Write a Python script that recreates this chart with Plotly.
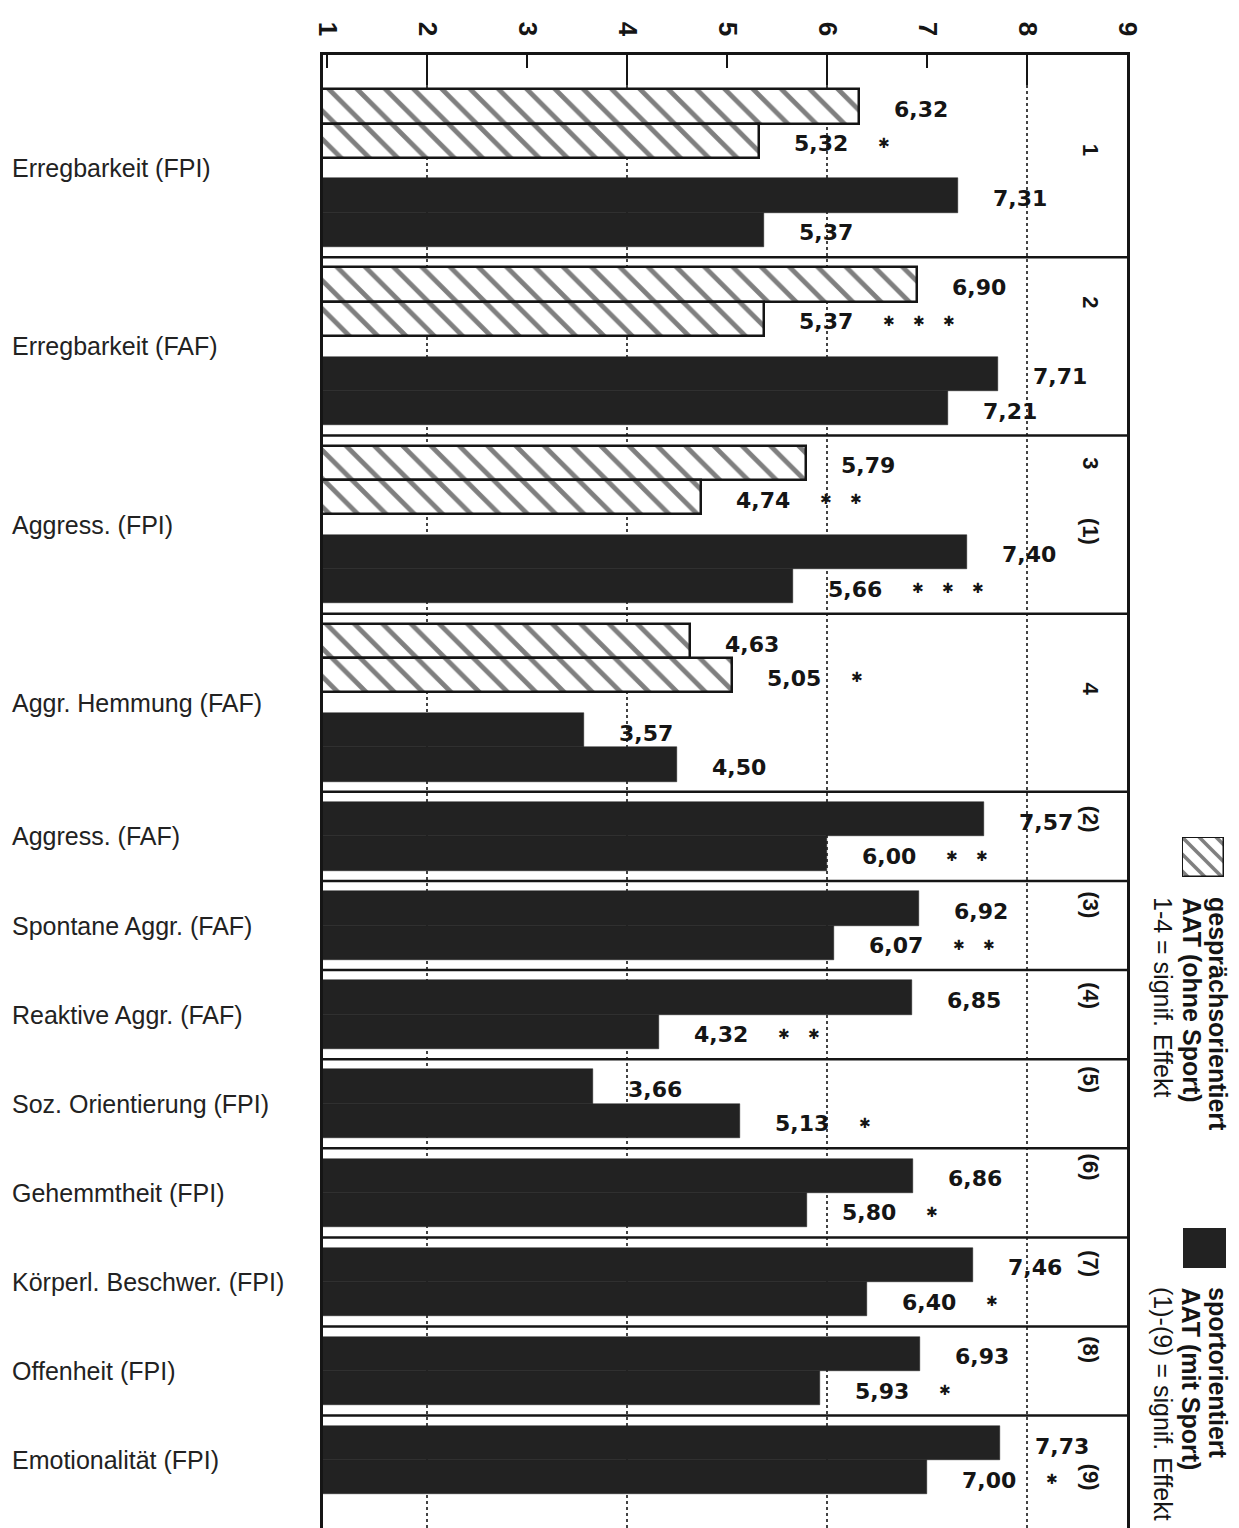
import plotly.graph_objects as go

# ---------------- data ----------------
categories = ["Erregbarkeit (FPI)", "Erregbarkeit (FAF)", "Aggress. (FPI)",
              "Aggr. Hemmung (FAF)", "Aggress. (FAF)", "Spontane Aggr. (FAF)",
              "Reaktive Aggr. (FAF)", "Soz. Orientierung (FPI)", "Gehemmtheit (FPI)",
              "Körperl. Beschwer. (FPI)", "Offenheit (FPI)", "Emotionalität (FPI)"]
# gesprächsorientiert AAT (ohne Sport): only first four scales
talk_pre = [6.32, 6.90, 5.79, 4.63]
talk_post = [5.32, 5.37, 4.74, 5.05]
talk_stars = [1, 3, 2, 1]
talk_ids = ["1", "2", "3", "4"]
# sportorientiert AAT (mit Sport)
sport_pre = [7.31, 7.71, 7.40, 3.57, 7.57, 6.92, 6.85, 3.66, 6.86, 7.46, 6.93, 7.73]
sport_post = [5.37, 7.21, 5.66, 4.50, 6.00, 6.07, 4.32, 5.13, 5.80, 6.40, 5.93, 7.00]
sport_stars = [0, 0, 3, 0, 2, 2, 2, 1, 1, 1, 1, 1]
sport_ids = ["", "", "(1)", "", "(2)", "(3)", "(4)", "(5)", "(6)", "(7)", "(8)", "(9)"]
x_ticks = [1, 2, 3, 4, 5, 6, 7, 8, 9]
x_major = [2, 4, 6, 8]

# ---------------- layout geometry ----------------
OFF = 8                       # default page margin of the html body
W, H = 1239 - OFF, 1528 - OFF


def px(v):
    return (v - OFF) / W


def py(v):
    return 1 - (v - OFF) / H


PLOT_L, PLOT_R, PLOT_T = 323, 1127, 55
TOP_EXTRA, PAD, GAP = 0.7, 0.3, 0.6
Y_MAX = 42.98
# where the rotated group ids sit inside their bar pair (bar-height units from pair top)
talk_id_pos = [1.75, 1.0, 0.5, 1.9]
sport_id_pos = [0, 0, -0.1, 0, 0.5, 0.4, 0.45, 0.3, 0.25, 0.47, 0.38, 1.5]

BOLD = "DejaVu Sans"
SANS = "Liberation Sans, Arial, sans-serif"
INK = "#151515"


def fmt(v):
    return f"{v:.2f}".replace(".", ",")


talk_y, sport_y, group_center, separators, talk_top, sport_top = [], [], [], [], [], []
cursor = 0.0
for i in range(len(categories)):
    pos = cursor + PAD + (TOP_EXTRA if i == 0 else 0)
    first = pos
    if i < len(talk_pre):
        talk_y.append((pos + 0.5, pos + 1.5))
        talk_top.append(pos)
        pos += 2 + GAP
    sport_y.append((pos + 0.5, pos + 1.5))
    sport_top.append(pos)
    pos += 2
    group_center.append((first + pos) / 2)
    cursor = pos + PAD
    separators.append(cursor)

fig = go.Figure()

# black bars on the main axis (which carries the long ticks and the dotted grid)
sy, sx = [], []
for (a, b), v1, v2 in zip(sport_y, sport_pre, sport_post):
    sy += [a, b]
    sx += [v1, v2]
fig.add_trace(go.Bar(
    x=sx, y=sy, orientation="h", width=1.0,
    marker=dict(color="#222", line=dict(color="#222", width=0.5)),
    showlegend=False, hoverinfo="skip"))

# hatched bars on the overlaid axis (which carries the labelled ticks)
ty, tx = [], []
for (a, b), v1, v2 in zip(talk_y, talk_pre, talk_post):
    ty += [a, b]
    tx += [v1, v2]
fig.add_trace(go.Bar(
    x=tx, y=ty, orientation="h", width=1.0, xaxis="x2",
    marker=dict(color="white", line=dict(color=INK, width=2.5),
                pattern=dict(shape="\\", size=20, solidity=0.24,
                             fgcolor="#000", bgcolor="white", fillmode="overlay")),
    showlegend=False, hoverinfo="skip"))

# legend swatches on small helper axes
fig.add_trace(go.Bar(
    x=[1], y=[0], orientation="h", width=1.0, xaxis="x3", yaxis="y3",
    marker=dict(color="white", line=dict(color=INK, width=2.5),
                pattern=dict(shape="\\", size=12, solidity=0.3,
                             fgcolor="#000", bgcolor="white", fillmode="overlay")),
    showlegend=False, hoverinfo="skip"))
fig.add_trace(go.Bar(
    x=[1], y=[0], orientation="h", width=1.0, xaxis="x4", yaxis="y4",
    marker=dict(color="#222", line=dict(color="#222", width=0)),
    showlegend=False, hoverinfo="skip"))

annotations = []
LABEL_DX, STAR_DX, STAR_STEP = 33, 125, 30
lab_font = dict(family=BOLD, size=22, color=INK, weight="bold")


def value_label(v, y, stars):
    annotations.append(dict(x=v, y=y, xref="x", yref="y", text=fmt(v),
                            showarrow=False, xanchor="left", yanchor="middle",
                            xshift=LABEL_DX, yshift=-3, font=lab_font))
    for k in range(stars):
        annotations.append(dict(x=v, y=y, xref="x", yref="y", text="✱",
                                showarrow=False, xanchor="center", yanchor="middle",
                                xshift=STAR_DX + STAR_STEP * k, yshift=-2,
                                font=dict(family=BOLD, size=14, color=INK, weight="bold")))


for (a, b), v1, v2, st in zip(talk_y, talk_pre, talk_post, talk_stars):
    value_label(v1, a, 0)
    value_label(v2, b, st)
for (a, b), v1, v2, st in zip(sport_y, sport_pre, sport_post, sport_stars):
    value_label(v1, a, 0)
    value_label(v2, b, st)

# category labels
for cat, yc in zip(categories, group_center):
    annotations.append(dict(x=px(10), y=yc, xref="paper", yref="y", text=cat,
                            showarrow=False, xanchor="left", yanchor="middle",
                            font=dict(family=SANS, size=25, color="#222")))

# group ids on the right (rotated)
id_x = (1105 - PLOT_L) / (PLOT_R - PLOT_L)
id_font = dict(family=SANS, size=22, color=INK, weight="bold")
for t, top, d in zip(talk_ids, talk_top, talk_id_pos):
    annotations.append(dict(x=id_x, y=top + d, xref="x domain", yref="y", text=t,
                            showarrow=False, textangle=90, font=id_font))
for t, top, d in zip(sport_ids, sport_top, sport_id_pos):
    if t:
        annotations.append(dict(x=id_x, y=top + d, xref="x domain", yref="y", text=t,
                                showarrow=False, textangle=90, font=id_font))


# legend texts (rotated)
def legend_text(lines, y_top_px):
    xs = [1218, 1191, 1163]
    for (txt, bold), xp in zip(lines, xs):
        annotations.append(dict(x=px(xp), y=py(y_top_px), xref="paper", yref="paper",
                                text=txt, showarrow=False, textangle=90,
                                xanchor="center", yanchor="top",
                                font=dict(family=SANS, size=25, color=INK,
                                          weight="bold" if bold else "normal")))


legend_text([("gesprächsorientiert", True), ("AAT (ohne Sport)", True),
             ("1-4 = signif. Effekt", False)], 895)
legend_text([("sportorientiert", True), ("AAT (mit Sport)", True),
             ("(1)-(9) = signif. Effekt", False)], 1285)

# group separators
shapes = []
for s in separators[:-1]:
    shapes.append(dict(type="line", xref="x domain", yref="y", x0=0, x1=1, y0=s, y1=s,
                       line=dict(color=INK, width=2.5)))

y_dom_top = py(PLOT_T)
x_dom = [px(PLOT_L), px(PLOT_R)]
fig.update_layout(
    width=W, height=H, autosize=False,
    margin=dict(l=0, r=0, t=0, b=0),
    paper_bgcolor="white", plot_bgcolor="white",
    font=dict(family=SANS, color=INK),
    barmode="overlay", bargap=0,
    xaxis=dict(domain=x_dom, range=[0.96, 9.0], side="top", anchor="y",
               tickvals=x_major, ticks="inside", ticklen=30, tickwidth=2,
               tickcolor=INK, showticklabels=False,
               showgrid=True, griddash="dot", gridcolor="#444", gridwidth=1.5,
               showline=True, linewidth=3, linecolor=INK, mirror=True,
               zeroline=False, automargin=False, fixedrange=True),
    xaxis2=dict(domain=x_dom, range=[0.96, 9.0], side="top",
                overlaying="x", anchor="y", tickvals=x_ticks,
                ticktext=[str(t) for t in x_ticks],
                ticks="inside", ticklen=13, tickwidth=2, tickcolor=INK,
                tickangle=90, ticklabelstandoff=14,
                tickfont=dict(family=SANS, size=26, color=INK, weight="bold"),
                showgrid=False, showline=False, zeroline=False, automargin=False),
    yaxis=dict(domain=[0, y_dom_top], range=[Y_MAX, 0], showticklabels=False,
               ticks="", showgrid=False, zeroline=False, showline=True, linewidth=3,
               linecolor=INK, mirror=True, automargin=False),
    xaxis3=dict(domain=[px(1182), px(1224)], range=[0, 1], visible=False, anchor="y3"),
    yaxis3=dict(domain=[py(877), py(837)], range=[-0.5, 0.5], visible=False, anchor="x3"),
    xaxis4=dict(domain=[px(1183), px(1226)], range=[0, 1], visible=False, anchor="y4"),
    yaxis4=dict(domain=[py(1268), py(1228)], range=[-0.5, 0.5], visible=False, anchor="x4"),
    annotations=annotations,
    shapes=shapes,
)

fig.write_html("out.html")
